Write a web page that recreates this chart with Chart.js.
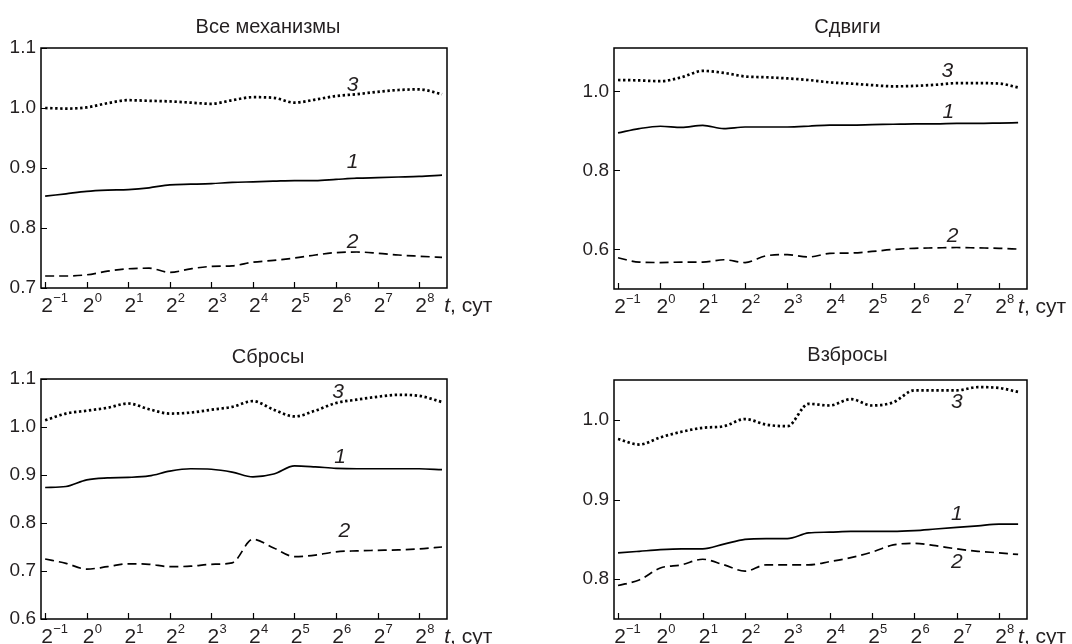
<!DOCTYPE html>
<html>
<head>
<meta charset="utf-8">
<script src="https://cdn.jsdelivr.net/npm/chart.js@4.4.1/dist/chart.umd.min.js"></script>
<style>
  body { margin: 0; background: #fff; width: 1072px; height: 644px; position: relative; overflow: hidden; }
  .panel { position: absolute; width: 536px; height: 322px; }
</style>
</head>
<body>
<div class="panel" style="left:0;top:0"><canvas id="c1"></canvas></div>
<div class="panel" style="left:536px;top:0"><canvas id="c2"></canvas></div>
<div class="panel" style="left:0;top:322px"><canvas id="c3"></canvas></div>
<div class="panel" style="left:536px;top:322px"><canvas id="c4"></canvas></div>
<script>
// time axis is log2(t, days); curves sampled every half step
const tLeft  = [-1, -0.5, 0, 0.5, 1, 1.5, 2, 2.5, 3, 3.5, 4, 4.5, 5, 5.5, 6, 6.5, 7, 7.5, 8, 8.55];
const tRight = [-1, -0.5, 0, 0.5, 1, 1.5, 2, 2.5, 3, 3.5, 4, 4.5, 5, 5.5, 6, 6.5, 7, 7.5, 8, 8.45];
const xPowers = [-1, 0, 1, 2, 3, 4, 5, 6, 7, 8];

const titles = ['Все механизмы', 'Сдвиги', 'Сбросы', 'Взбросы'];

// Все механизмы
const allMech1 = [0.853, 0.857, 0.861, 0.863, 0.864, 0.867, 0.872, 0.873, 0.874, 0.876, 0.877, 0.878, 0.879, 0.879, 0.881, 0.883, 0.884, 0.885, 0.886, 0.888];
const allMech2 = [0.720, 0.720, 0.722, 0.728, 0.732, 0.733, 0.726, 0.732, 0.736, 0.737, 0.743, 0.746, 0.750, 0.755, 0.759, 0.760, 0.758, 0.755, 0.753, 0.751];
const allMech3 = [1.000, 0.999, 1.001, 1.008, 1.013, 1.012, 1.011, 1.009, 1.007, 1.013, 1.018, 1.017, 1.009, 1.014, 1.020, 1.023, 1.027, 1.030, 1.031, 1.023];
const allMechTicks = [0.7, 0.8, 0.9, 1.0, 1.1];
const allMechLabelT = [6.4, 6.4, 6.4];
const allMechLabelV = [0.910, 0.777, 1.038];

// Сдвиги
const strike1 = [0.895, 0.906, 0.912, 0.909, 0.914, 0.906, 0.910, 0.910, 0.910, 0.912, 0.915, 0.915, 0.916, 0.917, 0.918, 0.918, 0.919, 0.919, 0.920, 0.921];
const strike2 = [0.579, 0.568, 0.567, 0.568, 0.568, 0.574, 0.567, 0.584, 0.587, 0.581, 0.590, 0.591, 0.595, 0.600, 0.603, 0.604, 0.605, 0.604, 0.603, 0.601];
const strike3 = [1.029, 1.028, 1.026, 1.036, 1.052, 1.047, 1.038, 1.036, 1.033, 1.029, 1.023, 1.020, 1.016, 1.013, 1.014, 1.017, 1.021, 1.021, 1.020, 1.010];
const strikeTicks = [0.6, 0.8, 1.0];
const strikeLabelT = [6.8, 6.9, 6.78];
const strikeLabelV = [0.947, 0.635, 1.052];

// Сбросы
const normal1 = [0.874, 0.876, 0.890, 0.894, 0.895, 0.898, 0.908, 0.913, 0.912, 0.906, 0.896, 0.902, 0.919, 0.917, 0.914, 0.913, 0.913, 0.913, 0.913, 0.911];
const normal2 = [0.725, 0.716, 0.704, 0.709, 0.715, 0.714, 0.709, 0.710, 0.714, 0.717, 0.766, 0.748, 0.730, 0.733, 0.740, 0.742, 0.743, 0.744, 0.746, 0.750];
const normal3 = [1.014, 1.028, 1.034, 1.040, 1.049, 1.037, 1.028, 1.030, 1.036, 1.042, 1.054, 1.036, 1.022, 1.034, 1.050, 1.057, 1.063, 1.067, 1.065, 1.052];
const normalTicks = [0.6, 0.7, 0.8, 0.9, 1.0, 1.1];
const normalLabelT = [6.1, 6.2, 6.05];
const normalLabelV = [0.937, 0.782, 1.073];

// Взбросы
const reverse1 = [0.833, 0.835, 0.837, 0.838, 0.838, 0.844, 0.850, 0.851, 0.851, 0.858, 0.859, 0.860, 0.860, 0.860, 0.861, 0.863, 0.865, 0.867, 0.869, 0.869];
const reverse2 = [0.792, 0.799, 0.814, 0.818, 0.825, 0.818, 0.810, 0.818, 0.818, 0.818, 0.822, 0.827, 0.834, 0.843, 0.845, 0.842, 0.838, 0.835, 0.833, 0.831];
const reverse3 = [0.976, 0.969, 0.978, 0.985, 0.990, 0.992, 1.001, 0.994, 0.992, 1.020, 1.018, 1.026, 1.018, 1.022, 1.037, 1.037, 1.037, 1.041, 1.040, 1.035];
const reverseTicks = [0.8, 0.9, 1.0];
const reverseLabelT = [7.0, 7.0, 7.0];
const reverseLabelV = [0.881, 0.821, 1.022];

const FONT = '"Liberation Sans", Arial, sans-serif';
const INK = '#231f20';

// frame, inner tick marks, power-of-two labels, curve numbers, title
const panelDecor = {
  id: 'panelDecor',
  afterDraw(chart) {
    const o = chart.options.plugins.panelDecor;
    const ctx = chart.ctx;
    const a = chart.chartArea;
    const xs = chart.scales.x, ys = chart.scales.y;
    ctx.save();
    ctx.strokeStyle = '#000';
    ctx.lineWidth = 1.5;
    ctx.strokeRect(a.left, a.top, a.right - a.left, a.bottom - a.top);

    ctx.lineWidth = 1.2;
    ctx.beginPath();
    xPowers.forEach(p => {
      const px = Math.round(xs.getPixelForValue(p)) + 0.5;
      ctx.moveTo(px, a.bottom);
      ctx.lineTo(px, a.bottom - 6);
    });
    o.yTicks.forEach(v => {
      const py = Math.round(ys.getPixelForValue(v)) + 0.5;
      ctx.moveTo(a.left, py);
      ctx.lineTo(a.left + 6, py);
    });
    ctx.stroke();

    ctx.fillStyle = INK;
    ctx.textBaseline = 'alphabetic';
    const base = a.bottom + 24;
    xPowers.forEach(p => {
      const px = xs.getPixelForValue(p);
      ctx.font = '21px ' + FONT;
      ctx.textAlign = 'center';
      ctx.fillText('2', px + 2, base);
      ctx.font = '13px ' + FONT;
      ctx.textAlign = 'left';
      ctx.fillText(p < 0 ? '\u2212' + (-p) : String(p), px + 8, base - 10);
    });
    let tx = xs.getPixelForValue(8) + o.unitShift;
    ctx.textAlign = 'left';
    ctx.font = 'italic 21px ' + FONT;
    ctx.fillText('t', tx, base);
    tx += ctx.measureText('t').width;
    ctx.font = '21px ' + FONT;
    ctx.fillText(', сут', tx, base);

    ctx.font = 'italic 21px ' + FONT;
    ctx.textAlign = 'center';
    ctx.textBaseline = 'middle';
    ['1', '2', '3'].forEach((n, i) => {
      ctx.fillText(n, xs.getPixelForValue(o.labelT[i]), ys.getPixelForValue(o.labelV[i]));
    });

    ctx.font = '20px ' + FONT;
    ctx.fillText(o.title, (a.left + a.right) / 2 + o.titleShift, o.titleY);
    ctx.restore();
  }
};

function makePanel(id, cfg) {
  const line = (data, style) => Object.assign({
    data: cfg.t.map((t, i) => ({ x: t, y: data[i] })),
    borderColor: '#000',
    pointRadius: 0,
    fill: false,
    cubicInterpolationMode: 'monotone'
  }, style);

  new Chart(document.getElementById(id), {
    type: 'line',
    data: {
      datasets: [
        line(cfg.s1, { borderWidth: 1.7 }),
        line(cfg.s2, { borderWidth: 1.7, borderDash: [9, 5] }),
        line(cfg.s3, { borderWidth: 2.7, borderDash: [2.4, 2.6] })
      ]
    },
    options: {
      responsive: true,
      maintainAspectRatio: false,
      animation: false,
      events: [],
      layout: { padding: { left: 0, right: cfg.padRight, top: cfg.padTop, bottom: 0 } },
      plugins: {
        legend: { display: false },
        tooltip: { enabled: false },
        panelDecor: {
          title: cfg.title, titleShift: cfg.titleShift, titleY: cfg.titleY,
          yTicks: cfg.yTicks, labelT: cfg.labelT, labelV: cfg.labelV,
          unitShift: cfg.unitShift
        }
      },
      scales: {
        x: {
          type: 'linear',
          min: cfg.xMin, max: cfg.xMax,
          grid: { display: false, drawTicks: false },
          border: { display: false },
          ticks: { display: false },
          afterBuildTicks: s => { s.ticks = xPowers.map(v => ({ value: v })); },
          afterFit: s => { s.height = cfg.xHeight; }
        },
        y: {
          min: cfg.yMin, max: cfg.yMax,
          grid: { display: false, drawTicks: false },
          border: { display: false },
          ticks: {
            color: INK, padding: 5,
            font: { family: FONT, size: 19 },
            callback: v => v.toFixed(1)
          },
          afterBuildTicks: s => { s.ticks = cfg.yTicks.map(v => ({ value: v })); },
          afterFit: s => { s.width = cfg.yWidth; }
        }
      }
    },
    plugins: [panelDecor]
  });
}

makePanel('c1', {
  title: titles[0], titleShift: 24, titleY: 27,
  t: tLeft, s1: allMech1, s2: allMech2, s3: allMech3,
  yTicks: allMechTicks, labelT: allMechLabelT, labelV: allMechLabelV,
  yMin: 0.7, yMax: 1.1, xMin: -1.1, xMax: 8.67,
  yWidth: 41, padRight: 89, padTop: 48, xHeight: 34, unitShift: 25
});
makePanel('c2', {
  title: titles[1], titleShift: 27, titleY: 27,
  t: tRight, s1: strike1, s2: strike2, s3: strike3,
  yTicks: strikeTicks, labelT: strikeLabelT, labelV: strikeLabelV,
  yMin: 0.5, yMax: 1.11, xMin: -1.095, xMax: 8.66,
  yWidth: 78, padRight: 45, padTop: 48, xHeight: 33, unitShift: 19
});
makePanel('c3', {
  title: titles[2], titleShift: 24, titleY: 35,
  t: tLeft, s1: normal1, s2: normal2, s3: normal3,
  yTicks: normalTicks, labelT: normalLabelT, labelV: normalLabelV,
  yMin: 0.6, yMax: 1.1, xMin: -1.1, xMax: 8.67,
  yWidth: 41, padRight: 89, padTop: 57, xHeight: 25, unitShift: 25
});
makePanel('c4', {
  title: titles[3], titleShift: 27, titleY: 33,
  t: tRight, s1: reverse1, s2: reverse2, s3: reverse3,
  yTicks: reverseTicks, labelT: reverseLabelT, labelV: reverseLabelV,
  yMin: 0.75, yMax: 1.05, xMin: -1.095, xMax: 8.66,
  yWidth: 78, padRight: 45, padTop: 58, xHeight: 25, unitShift: 19
});
</script>
</body>
</html>
